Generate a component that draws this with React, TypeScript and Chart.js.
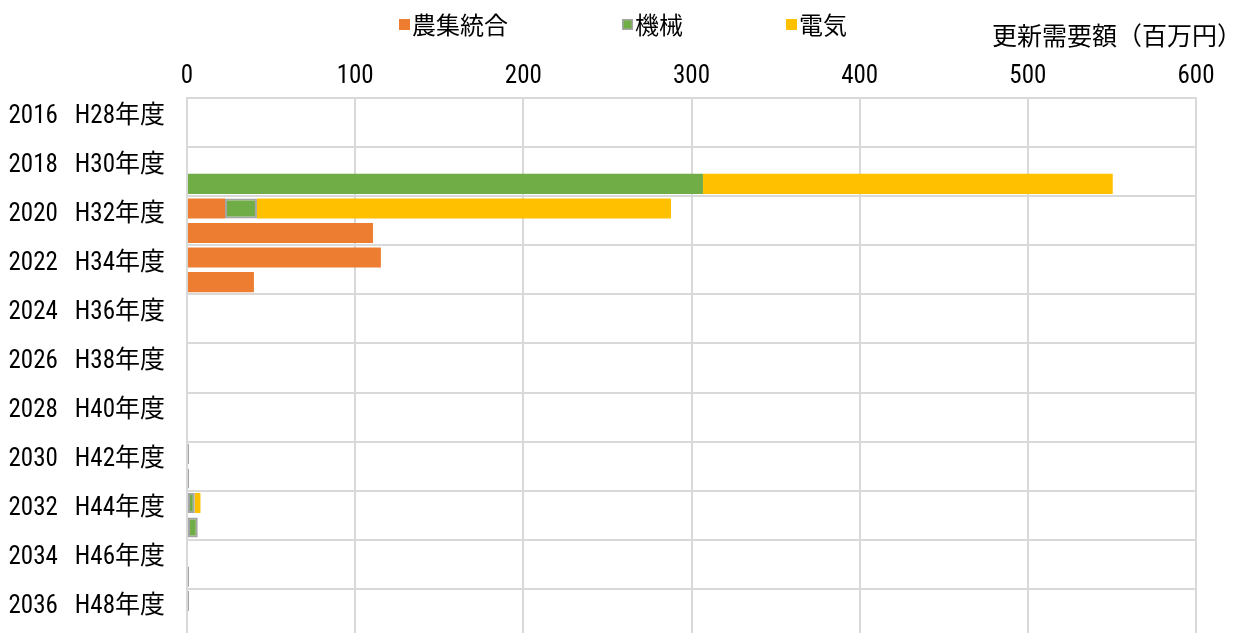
import React, { useEffect, useRef } from 'react';
import { Chart, registerables } from 'chart.js';

Chart.register(...registerables);

// ---- data ----
const years = ['2016', '2017', '2018', '2019', '2020', '2021', '2022', '2023', '2024', '2025', '2026',
  '2027', '2028', '2029', '2030', '2031', '2032', '2033', '2034', '2035', '2036', '2037'];
const eraLabels = ['H28年度', 'H29年度', 'H30年度', 'H31年度', 'H32年度', 'H33年度', 'H34年度', 'H35年度',
  'H36年度', 'H37年度', 'H38年度', 'H39年度', 'H40年度', 'H41年度', 'H42年度', 'H43年度', 'H44年度',
  'H45年度', 'H46年度', 'H47年度', 'H48年度', 'H49年度'];
const categories = years.map((y, i) => `${y}\u2002 ${eraLabels[i]}`);

const seriesNames = ['農集統合', '機械', '電気'];
const nosyuValues = [0, 0, 0, 0, 22.6, 110.6, 115.3, 39.8, 0, 0, 0, 0, 0, 0, 0, 0, 0, 0, 0, 0, 0, 0];
const kikaiValues = [0, 0, 0, 306.8, 19, 0, 0, 0, 0, 0, 0, 0, 0, 0, 1.2, 1.2, 4.6, 6.4, 0, 1.2, 1.2, 0];
const denkiValues = [0, 0, 0, 243.7, 246.2, 0, 0, 0, 0, 0, 0, 0, 0, 0, 0, 0, 3.4, 0, 0, 0, 0, 0];
const xTickValues = [0, 100, 200, 300, 400, 500, 600];
const axisTitle = '更新需要額（百万円）';

// ---- style ----
const FONT = '"Roboto Condensed", "Noto Sans CJK JP", sans-serif';
const ORANGE = '#ED7D31';
const GREEN = '#70AD47';
const YELLOW = '#FFC000';
const GREY = '#A5A5A5';
const GRID = '#D9D9D9';
const LEGEND_X = [399, 622, 786];

const kikaiBorder = kikaiValues.map((v, i) => (i === 3 || v === 0 ? 0 : 2));

const overlayPlugin = {
  id: 'overlay',
  afterDraw(chart: any) {
    const ctx = chart.ctx as CanvasRenderingContext2D;
    ctx.save();
    ctx.textBaseline = 'middle';
    ctx.textAlign = 'left';
    ctx.font = `24px ${FONT}`;
    chart.data.datasets.forEach((ds: any, i: number) => {
      const x = LEGEND_X[i];
      ctx.fillStyle = ds.backgroundColor;
      ctx.fillRect(x, 19, 11, 11);
      if (i === 1) {
        ctx.strokeStyle = GREY;
        ctx.lineWidth = 1.5;
        ctx.strokeRect(x + 0.75, 19.75, 9.5, 9.5);
      }
      ctx.fillStyle = '#000';
      ctx.fillText(ds.label, x + 13, 28);
    });
    ctx.textAlign = 'right';
    ctx.font = `25px ${FONT}`;
    ctx.fillText(axisTitle, chart.width, 39);
    ctx.restore();
  },
};

export default function App() {
  const ref = useRef<HTMLCanvasElement | null>(null);

  useEffect(() => {
    document.body.style.margin = '0';
    const canvas = ref.current;
    if (!canvas) return;
    const chart = new Chart(canvas, {
      type: 'bar',
      data: {
        labels: categories,
        datasets: [
          {
            label: seriesNames[0],
            data: nosyuValues,
            backgroundColor: ORANGE,
            borderWidth: 0,
          },
          {
            label: seriesNames[1],
            data: kikaiValues,
            backgroundColor: GREEN,
            borderColor: GREY,
            borderWidth: kikaiBorder,
            borderSkipped: false,
          },
          {
            label: seriesNames[2],
            data: denkiValues,
            backgroundColor: YELLOW,
            borderWidth: 0,
          },
        ],
      },
      options: {
        indexAxis: 'y',
        responsive: false,
        animation: false,
        maintainAspectRatio: false,
        categoryPercentage: 0.82,
        barPercentage: 1,
        layout: { padding: { top: 56, right: 46, bottom: 12, left: 0 } },
        plugins: {
          legend: { display: false },
          tooltip: { enabled: false },
          title: { display: false },
        },
        scales: {
          x: {
            position: 'top',
            stacked: true,
            min: xTickValues[0],
            max: xTickValues[xTickValues.length - 1],
            afterBuildTicks: (scale: any) => {
              scale.ticks = xTickValues.map((v) => ({ value: v }));
            },
            afterFit: (scale: any) => {
              scale.paddingLeft = 0;
              scale.paddingRight = 0;
            },
            ticks: {
              padding: 6,
              color: '#000',
              font: { family: FONT, size: 25, lineHeight: 1.2 },
            },
            grid: { color: GRID, lineWidth: 2, drawTicks: false },
            border: { color: GRID, width: 2 },
          },
          y: {
            stacked: true,
            afterFit: (scale: any) => {
              scale.width = 187;
              scale.paddingTop = 0;
              scale.paddingBottom = 0;
            },
            ticks: {
              autoSkip: false,
              padding: 22,
              labelOffset: 6,
              color: '#000',
              font: { family: FONT, size: 25, lineHeight: 1.2 },
              callback: (_v: any, idx: number) => (idx % 2 === 0 ? categories[idx] : ''),
            },
            grid: {
              drawTicks: false,
              lineWidth: 2,
              color: (ctx: any) => (ctx.index % 2 === 0 ? GRID : 'rgba(0,0,0,0)'),
            },
            border: { color: GRID, width: 2 },
          },
        },
      },
      plugins: [overlayPlugin],
    } as any);
    return () => chart.destroy();
  }, []);

  return (
    <div style={{ position: 'fixed', left: 0, top: 0, width: 1242, height: 650, overflow: 'hidden', background: '#fff' }}>
      <canvas ref={ref} width={1242} height={650} style={{ display: 'block' }} />
    </div>
  );
}
